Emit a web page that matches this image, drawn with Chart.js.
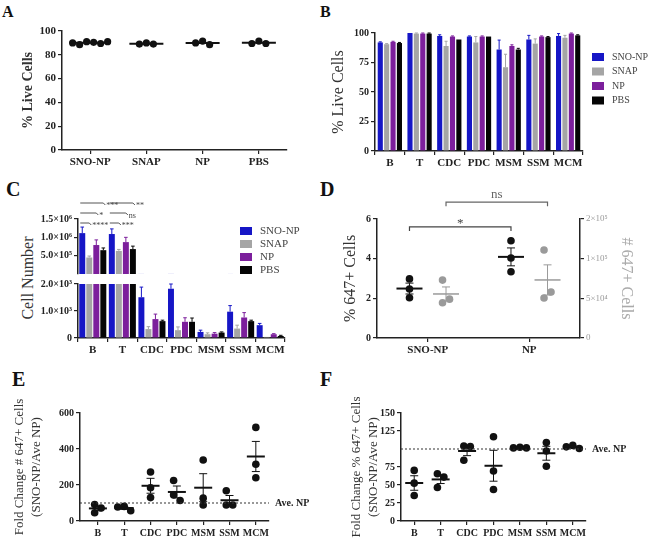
<!DOCTYPE html>
<html>
<head>
<meta charset="utf-8">
<script src="https://cdn.jsdelivr.net/npm/chart.js@4.4.1/dist/chart.umd.min.js"></script>
<style>
  html, body { margin: 0; padding: 0; background: #fff; }
  #fig { position: relative; width: 650px; height: 542px; overflow: hidden;
         font-family: 'Liberation Serif', 'DejaVu Serif', serif; color: #222; }
  canvas { position: absolute; }
  .tag { position: absolute; font-weight: bold; line-height: 1; color: #111; }
  .vtitle { position: absolute; width: 140px; height: 20px; line-height: 20px; text-align: center;
            transform: rotate(-90deg); white-space: nowrap; font-size: 16px; color: #333; }
</style>
</head>
<body>
<div id="fig">
  <div class="tag" style="left:2px;top:4px;font-size:16px">A</div>
  <div class="tag" style="left:320px;top:4px;font-size:16px">B</div>
  <div class="tag" style="left:6px;top:179px;font-size:20px">C</div>
  <div class="tag" style="left:320px;top:179px;font-size:20px">D</div>
  <div class="tag" style="left:12px;top:369px;font-size:20px">E</div>
  <div class="tag" style="left:320px;top:369px;font-size:20px">F</div>
  <div class="vtitle" style="left:-42px;top:268px">Cell Number</div>
</div>
<script>
// ---- Panel A: % live cells per treatment
const groupsA = ['SNO-NP', 'SNAP', 'NP', 'PBS'];
const liveSnoNpA = [91, 90.5, 88.5, 89.5, 90, 91];
const liveSnapA = [90, 89, 89];
const liveNpA = [91.5, 88.5, 90];
const livePbsA = [91.5, 89.5, 89.5];
const ticksA = [0, 20, 40, 60, 80, 100];

// ---- Panel B: % live cells per cell type
const cellTypes = ['B', 'T', 'CDC', 'PDC', 'MSM', 'SSM', 'MCM'];
const treatments = ['SNO-NP', 'SNAP', 'NP', 'PBS'];
const treatColors = ['#1616c6', '#a5a5a5', '#7c1f9c', '#050505'];
const liveSnoNp = [92, 100, 97.5, 97, 86, 94.5, 97.5];
const liveSnoNpErr = [0.5, 0, 1, 0.5, 8, 3.5, 2];
const liveSnap = [90.5, 99.5, 89, 92, 71, 91, 96];
const liveSnapErr = [0.5, 0.5, 4, 5, 11, 4, 2];
const liveNp = [92.5, 99.5, 97, 97, 89, 97, 99.5];
const liveNpErr = [0.5, 0.5, 0.5, 0.5, 1, 0.5, 0.5];
const livePbs = [91.5, 99.5, 94.5, 97, 86, 96.5, 98];
const livePbsErr = [0.5, 0.5, 0, 0, 1, 0.5, 0.5];
const ticksB = [0, 25, 50, 75, 100];

// ---- Panel C: cell numbers (broken axis)
const countSnoNp = [1.115e6, 1.09e6, 1510, 1825, 225, 975, 475];
const countSnoNpErr = [1.65e5, 1.4e5, 375, 175, 65, 225, 65];
const countSnap = [4.5e5, 6.3e5, 330, 290, 140, 350, 40];
const countSnapErr = [4e4, 4e4, 90, 120, 50, 125, 0];
const countNp = [7.9e5, 8.7e5, 700, 600, 160, 760, 140];
const countNpErr = [1.4e5, 1.3e5, 185, 150, 40, 180, 20];
const countPbs = [6.5e5, 6.8e5, 625, 600, 200, 625, 75];
const countPbsErr = [6e4, 8e4, 35, 140, 25, 35, 25];
const ticksCTop = [5e5, 1e6, 1.5e6];
const labelsCTop = ['5.0×10⁵', '1.0×10⁶', '1.5×10⁶'];
const ticksCBottom = [0, 500, 1000, 1500, 2000];
const labelsCBottom = ['0', '5.0×10²', '1.0×10³', '1.5×10³', '2.0×10³'];
const sigCB = ['****', '*', '***'];   // SNO-NP vs SNAP, NP, PBS (B cells)
const sigCT = ['***', 'ns', '**'];    // same for T cells

// ---- Panel D: % 647+ cells (left) and # 647+ cells (right)
const groupsD = ['SNO-NP', 'NP'];
const pct647SnoNp = [2.98, 2.47, 2.03];
const pct647Np = [4.9, 4.03, 3.34];
const num647SnoNp = [73000, 44500, 49000];
const num647Np = [111000, 50500, 58000];
const ticksDLeft = [0, 2, 4, 6];
const ticksDRight = [0, 50000, 100000, 150000];
const labelsDRight = ['0', '5×10⁴', '1×10⁵', '2×10⁵'];

// ---- Panel E: fold change # 647+ cells
const foldCountE = [[92, 46, 72], [81, 57, 78], [272, 185, 130], [225, 145, 114],
                    [339, 127, 89], [168, 89, 89], [520, 315, 240]];
const ticksE = [0, 200, 400, 600];

// ---- Panel F: fold change % 647+ cells
const foldPctF = [[70.3, 52.6, 35.4], [65.7, 61, 46.6], [104, 103.4, 84.3], [117, 69.4, 43.8],
                  [102.5, 101.5, 101.5], [109, 97.3, 76], [105, 100.6, 103]];
const ticksF = [0, 25, 50, 75, 125, 150];
const aveNp = 100;

// ---------------------------------------------------------------
const FONT = "'Liberation Serif', 'DejaVu Serif', serif";
Chart.defaults.font.family = FONT;
Chart.defaults.color = '#222';
Chart.defaults.animation = false;
Chart.defaults.plugins.legend.display = false;
Chart.defaults.plugins.tooltip.enabled = false;

// canvas box [left, top, w, h] and plot area [L, T, R, B] in page pixels
const geo = {
  A: { box: [0, 20, 320, 155], area: [62, 31, 287, 150] },
  B: { box: [322, 20, 328, 155], area: [375, 33, 583, 151] },
  C1: { box: [0, 195, 320, 89], area: [78, 219, 285, 274] },
  C2: { box: [0, 268, 320, 90], area: [78, 284, 285, 338] },
  D: { box: [322, 188, 328, 172], area: [377, 219, 580, 338] },
  E: { box: [0, 385, 322, 157], area: [80, 413, 269, 521] },
  F: { box: [322, 385, 328, 157], area: [401, 413, 586, 521] }
};

function frame(g) {
  const [l, t, w, h] = g.box;
  const [L, T, R, B] = g.area;
  const c = document.createElement('canvas');
  c.width = w; c.height = h;
  c.style.left = l + 'px'; c.style.top = t + 'px';
  document.getElementById('fig').appendChild(c);
  return { ctx: c, left: L - l, top: T - t, right: l + w - R, bottom: t + h - B, pw: R - L, ph: B - T };
}

const gridOpts = { display: true, drawOnChartArea: false, drawTicks: true, tickLength: 4, color: '#222', lineWidth: 1.2 };
const borderOpts = { display: true, color: '#222', width: 1.5 };

function yAxis(o) {
  return {
    type: 'linear', min: o.min, max: o.max, position: o.position || 'left',
    afterFit: s => { s.width = o.width; },
    afterBuildTicks: s => { s.ticks = o.ticks.map(v => ({ value: v })); },
    ticks: {
      font: { size: o.size || 10, weight: o.weight || 'bold' }, color: o.color || '#222', padding: 2,
      callback: (v, i) => o.labels ? o.labels[i] : String(v)
    },
    grid: gridOpts, border: borderOpts,
    title: o.title ? {
      display: true, text: o.title, color: o.titleColor || '#333',
      font: { size: o.titleSize || 16, weight: o.titleWeight || 'normal', lineHeight: 1.3 },
      padding: { top: o.titlePad, bottom: 0 }
    } : { display: false }
  };
}

function xLinear(o) {
  return {
    type: 'linear', min: o.min, max: o.max,
    afterFit: s => { s.height = o.height; },
    afterBuildTicks: s => { s.ticks = o.labels.map((_, i) => ({ value: i + 1 })); },
    ticks: { font: { size: o.size || 10, weight: 'bold' }, color: '#222', padding: 2,
             maxRotation: 0, autoSkip: false, callback: (v, i) => o.labels[i] },
    grid: gridOpts, border: borderOpts
  };
}

function xCategory(height, display = true) {
  return {
    type: 'category', display,
    afterFit: s => { s.height = height; },
    ticks: { font: { size: 11, weight: 'bold' }, color: '#222', padding: 2, maxRotation: 0, autoSkip: false },
    grid: gridOpts, border: borderOpts
  };
}

const avg = a => a.reduce((s, v) => s + v, 0) / a.length;
const sem = a => {
  const m = avg(a);
  return Math.sqrt(a.reduce((s, v) => s + (v - m) ** 2, 0) / (a.length - 1)) / Math.sqrt(a.length);
};

// spread points sideways when they would overlap (beeswarm)
function swarm(vals, yPerPx, xPerPx, gap) {
  const placed = [];
  const offs = vals.map(v => {
    const py = v / yPerPx;
    for (const k of [0, 1, -1, 2, -2, 3, -3, 4, -4]) {
      const px = k * gap;
      if (placed.every(p => Math.hypot(p.px - px, p.py - py) >= gap - 0.5)) {
        placed.push({ px, py });
        return px;
      }
    }
    placed.push({ px: 0, py });
    return 0;
  });
  const mid = (Math.max(...offs) + Math.min(...offs)) / 2;
  return offs.map(o => o - mid);
}

// builds scatter points + mean/SEM group descriptions
function dotGroups(groups, o) {
  const pts = [], stats = [];
  groups.forEach((vals, i) => {
    const offs = swarm(vals, o.yPerPx, o.xPerPx, o.gap);
    const cx = i + 1 + (o.shift || 0);
    vals.forEach((v, j) => pts.push({ x: cx + offs[j] * o.xPerPx, y: v }));
    const ext = Math.max(...offs.map(Math.abs));
    stats.push({ x: cx, vals, axis: o.axis || 'y', color: o.color || '#111',
                 lw: o.lw || 2, half: Math.max(o.minHalf, ext + 3), semOn: o.semOn !== false });
  });
  return { pts, stats };
}

function meanSemPlugin(groups) {
  return {
    id: 'meanSem',
    afterDatasetsDraw(chart) {
      const ctx = chart.ctx, xs = chart.scales.x;
      groups.forEach(g => {
        const ys = chart.scales[g.axis];
        const m = avg(g.vals), se = sem(g.vals);
        const cx = xs.getPixelForValue(g.x);
        const my = ys.getPixelForValue(m);
        ctx.save();
        ctx.strokeStyle = g.color;
        if (g.semOn) {
          const hi = ys.getPixelForValue(m + se), lo = ys.getPixelForValue(m - se);
          ctx.lineWidth = 1;
          ctx.beginPath();
          ctx.moveTo(cx, hi); ctx.lineTo(cx, lo);
          ctx.moveTo(cx - 4, hi); ctx.lineTo(cx + 4, hi);
          ctx.moveTo(cx - 4, lo); ctx.lineTo(cx + 4, lo);
          ctx.stroke();
        }
        ctx.lineWidth = g.lw;
        ctx.beginPath();
        ctx.moveTo(cx - g.half, my); ctx.lineTo(cx + g.half, my);
        ctx.stroke();
        ctx.restore();
      });
    }
  };
}

const errorBarPlugin = {
  id: 'errorBars',
  afterDatasetsDraw(chart) {
    const ctx = chart.ctx, ys = chart.scales.y;
    chart.data.datasets.forEach((ds, i) => {
      const meta = chart.getDatasetMeta(i);
      meta.data.forEach((bar, j) => {
        const v = ds.data[j], e = ds.errors[j];
        if (!e || v >= ys.max || ys.getPixelForValue(ys.min) - bar.y < 2) return;
        const top = ys.getPixelForValue(Math.min(v + e, ys.max));
        const w = bar.width * 0.3;
        ctx.save();
        ctx.strokeStyle = ds.backgroundColor;
        ctx.lineWidth = 1;
        ctx.beginPath();
        ctx.moveTo(bar.x, bar.y); ctx.lineTo(bar.x, top);
        ctx.moveTo(bar.x - w, top); ctx.lineTo(bar.x + w, top);
        ctx.stroke();
        ctx.restore();
      });
    });
  }
};

function boxLegend(dx, dy, step, size) {
  return {
    id: 'boxLegend',
    afterDraw(chart) {
      const ctx = chart.ctx, a = chart.chartArea;
      ctx.save();
      ctx.font = size + 'px ' + FONT;
      ctx.textBaseline = 'middle';
      chart.data.datasets.forEach((ds, i) => {
        const y = a.top + dy + i * step;
        ctx.fillStyle = ds.backgroundColor;
        ctx.fillRect(a.right + dx, y - 4, 12, 8);
        ctx.fillStyle = '#444';
        ctx.fillText(ds.label, a.right + dx + 20, y);
      });
      ctx.restore();
    }
  };
}

function refLine(value, text) {
  return {
    id: 'refLine',
    afterDatasetsDraw(chart) {
      const ctx = chart.ctx, a = chart.chartArea;
      const y = chart.scales.y.getPixelForValue(value);
      ctx.save();
      ctx.strokeStyle = '#333';
      ctx.lineWidth = 1;
      ctx.setLineDash([2, 2]);
      ctx.beginPath(); ctx.moveTo(a.left, y); ctx.lineTo(a.right, y); ctx.stroke();
      ctx.setLineDash([]);
      ctx.fillStyle = '#222';
      ctx.font = 'bold 10px ' + FONT;
      ctx.textBaseline = 'middle';
      ctx.fillText(text, a.right + 6, y);
      ctx.restore();
    }
  };
}

function barSets(series, errs, pct) {
  return treatments.map((t, i) => ({
    label: t, data: series[i], errors: errs[i], backgroundColor: treatColors[i],
    categoryPercentage: pct[0], barPercentage: pct[1], clip: 0
  }));
}

// ---------------- A ----------------
(function () {
  const g = geo.A, f = frame(g);
  const xr = [0.5, 4.5];
  const dots = dotGroups([liveSnoNpA, liveSnapA, liveNpA, livePbsA],
    { yPerPx: 100 / f.ph, xPerPx: (xr[1] - xr[0]) / f.pw, gap: 7, minHalf: 17, semOn: false });
  new Chart(f.ctx, {
    type: 'scatter',
    data: { datasets: [{ data: dots.pts, pointRadius: 3.6, backgroundColor: '#111', borderWidth: 0 }] },
    options: {
      responsive: false, devicePixelRatio: 1,
      layout: { padding: { top: f.top, left: 0, right: f.right, bottom: 0 } },
      scales: {
        x: xLinear({ min: xr[0], max: xr[1], height: f.bottom, labels: groupsA, size: 11 }),
        y: yAxis({ min: 0, max: 100, ticks: ticksA, width: f.left, size: 11, title: '% Live Cells',
                   titleSize: 14, titleWeight: 'bold', titlePad: 28 - 9 })
      }
    },
    plugins: [meanSemPlugin(dots.stats)]
  });
})();

// ---------------- B ----------------
(function () {
  const g = geo.B, f = frame(g);
  new Chart(f.ctx, {
    type: 'bar',
    data: {
      labels: cellTypes,
      datasets: barSets([liveSnoNp, liveSnap, liveNp, livePbs],
                        [liveSnoNpErr, liveSnapErr, liveNpErr, livePbsErr], [0.86, 0.8])
    },
    options: {
      responsive: false, devicePixelRatio: 1,
      layout: { padding: { top: f.top, left: 0, right: f.right, bottom: 0 } },
      scales: {
        x: xCategory(f.bottom),
        y: yAxis({ min: 0, max: 100, ticks: ticksB, width: f.left, title: '% Live Cells', titlePad: 16 - 10 })
      }
    },
    plugins: [errorBarPlugin, boxLegend(9, 24, 14.5, 10)]
  });
})();

// ---------------- C (two stacked charts) ----------------
function sigPlugin() {
  return {
    id: 'sig',
    afterDraw(chart) {
      const ctx = chart.ctx, a = chart.chartArea;
      const rowY = [a.top + 4, a.top - 6, a.top - 16];
      ctx.save();
      ctx.strokeStyle = '#555';
      ctx.fillStyle = '#444';
      ctx.lineWidth = 1;
      ctx.font = '8px ' + FONT;
      ctx.textBaseline = 'middle';
      [sigCB, sigCT].forEach((marks, gi) => {
        const x1 = chart.getDatasetMeta(0).data[gi].x - 2;
        marks.forEach((m, k) => {
          const x2 = chart.getDatasetMeta(k + 1).data[gi].x;
          const y = rowY[k];
          ctx.beginPath();
          ctx.moveTo(x1, y); ctx.lineTo(x2, y); ctx.lineTo(x2 + 2, y + 2);
          ctx.stroke();
          ctx.fillText(m, x2 + 3, y + 3);
        });
      });
      ctx.restore();
    }
  };
}

(function () {
  const series = [countSnoNp, countSnap, countNp, countPbs];
  const errs = [countSnoNpErr, countSnapErr, countNpErr, countPbsErr];
  const top = frame(geo.C1);
  new Chart(top.ctx, {
    type: 'bar',
    data: { labels: cellTypes, datasets: barSets(series, errs, [0.95, 0.85]) },
    options: {
      responsive: false, devicePixelRatio: 1,
      layout: { padding: { top: top.top, left: 0, right: top.right, bottom: top.bottom } },
      scales: {
        x: xCategory(0, false),
        y: yAxis({ min: 0, max: 1.5e6, ticks: ticksCTop, labels: labelsCTop, width: top.left })
      }
    },
    plugins: [errorBarPlugin, boxLegend(-45, 12, 13, 11), sigPlugin()]
  });
  const bot = frame(geo.C2);
  new Chart(bot.ctx, {
    type: 'bar',
    data: { labels: cellTypes, datasets: barSets(series, errs, [0.95, 0.85]) },
    options: {
      responsive: false, devicePixelRatio: 1,
      layout: { padding: { top: bot.top, left: 0, right: bot.right, bottom: 0 } },
      scales: {
        x: xCategory(bot.bottom),
        y: yAxis({ min: 0, max: 2000, ticks: ticksCBottom, labels: labelsCBottom, width: bot.left })
      }
    },
    plugins: [errorBarPlugin]
  });
})();

// ---------------- D ----------------
(function () {
  const g = geo.D, f = frame(g);
  const xr = [0.5, 2.5], xPerPx = (xr[1] - xr[0]) / f.pw;
  const side = 0.18;
  const black = dotGroups([pct647SnoNp, pct647Np],
    { yPerPx: 6 / f.ph, xPerPx, gap: 7, minHalf: 13, shift: -side, axis: 'y', color: '#111' });
  const gray = dotGroups([num647SnoNp, num647Np],
    { yPerPx: 150000 / f.ph, xPerPx, gap: 7, minHalf: 13, shift: side, axis: 'y2', color: '#9a9a9a', lw: 1.5 });
  const brackets = {
    id: 'brackets',
    afterDraw(chart) {
      const ctx = chart.ctx, xs = chart.scales.x, ys = chart.scales.y;
      const list = [
        { a: 1 - side, b: 2 - side, y: 5.6, text: '*', color: '#444' },
        { a: 1 + side, b: 2 + side, y: 6.85, text: 'ns', color: '#666' }
      ];
      ctx.save();
      ctx.lineWidth = 1.2;
      ctx.font = '13px ' + FONT;
      ctx.textAlign = 'center';
      ctx.textBaseline = 'bottom';
      list.forEach(b => {
        const x1 = xs.getPixelForValue(b.a), x2 = xs.getPixelForValue(b.b), y = ys.getPixelForValue(b.y);
        ctx.strokeStyle = b.color;
        ctx.fillStyle = b.color;
        ctx.beginPath();
        ctx.moveTo(x1, y + 4); ctx.lineTo(x1, y); ctx.lineTo(x2, y); ctx.lineTo(x2, y + 4);
        ctx.stroke();
        ctx.fillText(b.text, (x1 + x2) / 2, y - (b.text === '*' ? -3 : 1));
      });
      ctx.restore();
    }
  };
  new Chart(f.ctx, {
    type: 'scatter',
    data: {
      datasets: [
        { data: black.pts, yAxisID: 'y', pointRadius: 3.8, backgroundColor: '#111', borderWidth: 0 },
        { data: gray.pts, yAxisID: 'y2', pointRadius: 3.8, backgroundColor: '#9a9a9a', borderWidth: 0 }
      ]
    },
    options: {
      responsive: false, devicePixelRatio: 1,
      layout: { padding: { top: f.top, left: 0, right: 0, bottom: 0 } },
      scales: {
        x: xLinear({ min: xr[0], max: xr[1], height: f.bottom, labels: groupsD, size: 11 }),
        y: yAxis({ min: 0, max: 6, ticks: ticksDLeft, width: f.left, title: '% 647+ Cells', titlePad: 28 - 10 }),
        y2: yAxis({ min: 0, max: 150000, ticks: ticksDRight, labels: labelsDRight, position: 'right',
                    width: f.right, size: 9, weight: 'normal', color: '#9a9a9a',
                    title: '# 647+ Cells', titleColor: '#aaa', titlePad: 23 - 10 })
      }
    },
    plugins: [meanSemPlugin(black.stats.concat(gray.stats)), brackets]
  });
})();

// ---------------- E ----------------
(function () {
  const g = geo.E, f = frame(g);
  const xr = [0.32, 7.5];
  const dots = dotGroups(foldCountE, { yPerPx: 600 / f.ph, xPerPx: (xr[1] - xr[0]) / f.pw, gap: 6.5, minHalf: 9 });
  new Chart(f.ctx, {
    type: 'scatter',
    data: { datasets: [{ data: dots.pts, pointRadius: 3.8, backgroundColor: '#111', borderWidth: 0 }] },
    options: {
      responsive: false, devicePixelRatio: 1,
      layout: { padding: { top: f.top, left: 0, right: f.right, bottom: 0 } },
      scales: {
        x: xLinear({ min: xr[0], max: xr[1], height: f.bottom, labels: cellTypes }),
        y: yAxis({ min: 0, max: 600, ticks: ticksE, width: f.left, titleSize: 13, titlePad: 20 - 8.5,
                   title: ['Fold Change # 647+ Cells', '(SNO-NP/Ave NP)'] })
      }
    },
    plugins: [refLine(aveNp, 'Ave. NP'), meanSemPlugin(dots.stats)]
  });
})();

// ---------------- F ----------------
(function () {
  const g = geo.F, f = frame(g);
  const xr = [0.5, 7.5];
  const dots = dotGroups(foldPctF, { yPerPx: 150 / f.ph, xPerPx: (xr[1] - xr[0]) / f.pw, gap: 6.5, minHalf: 9 });
  new Chart(f.ctx, {
    type: 'scatter',
    data: { datasets: [{ data: dots.pts, pointRadius: 3.8, backgroundColor: '#111', borderWidth: 0 }] },
    options: {
      responsive: false, devicePixelRatio: 1,
      layout: { padding: { top: f.top, left: 0, right: f.right, bottom: 0 } },
      scales: {
        x: xLinear({ min: xr[0], max: xr[1], height: f.bottom, labels: cellTypes }),
        y: yAxis({ min: 0, max: 150, ticks: ticksF, width: f.left, titleSize: 13, titlePad: 35 - 8.5,
                   title: ['Fold Change % 647+ Cells', '(SNO-NP/Ave NP)'] })
      }
    },
    plugins: [refLine(aveNp, 'Ave. NP'), meanSemPlugin(dots.stats)]
  });
})();
</script>
</body>
</html>
